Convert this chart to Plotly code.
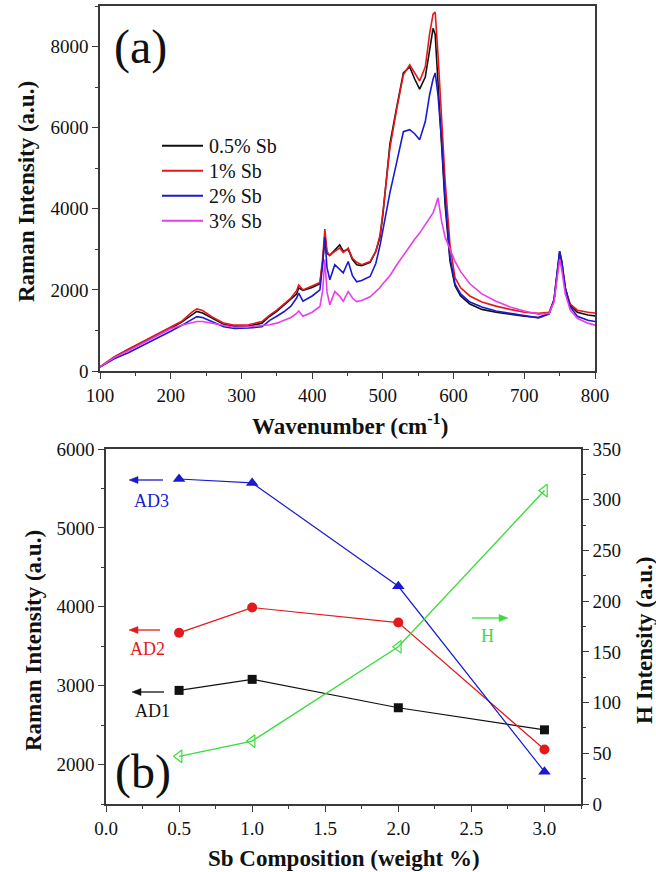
import plotly.graph_objects as go

# ---------------- (a) Raman spectra ----------------
wavenumber = [100, 110, 120, 140, 160, 180, 200, 215, 230, 237, 245, 258, 275, 290, 310, 329, 340, 350,
              360, 370, 378, 381, 387, 400, 411, 415, 418, 421, 425, 432, 439, 444, 451, 457, 463, 470,
              482, 490, 496, 500, 505, 510, 519, 529, 538, 545, 552, 560, 566, 571, 574, 578, 583, 588,
              595, 602, 610, 623, 640, 660, 680, 700, 720, 735, 742, 747, 750, 753, 758, 765, 775, 790, 800]

sb05 = [100, 220, 340, 530, 700, 880, 1060, 1200, 1400, 1470, 1430, 1300, 1150, 1100, 1110, 1180, 1350, 1470,
        1620, 1760, 1900, 2050, 1990, 2060, 2150, 2700, 3350, 2900, 2850, 2980, 3110, 2950, 3000, 2750, 2620, 2600,
        2680, 2950, 3300, 3850, 4800, 5600, 6450, 7350, 7500, 7200, 6950, 7250, 7900, 8450, 8300, 7200, 5600, 4100,
        2700, 2100, 1850, 1650, 1520, 1450, 1400, 1350, 1320, 1420, 1750, 2500, 2950, 2700, 2050, 1620, 1450, 1380, 1360]

sb1 = [100, 230, 350, 540, 720, 900, 1080, 1220, 1450, 1530, 1490, 1340, 1180, 1130, 1140, 1220, 1380, 1500,
       1650, 1800, 1980, 2120, 2000, 2100, 2180, 2800, 3500, 2950, 2850, 2950, 3030, 2920, 3030, 2780, 2680, 2620,
       2700, 2950, 3350, 3900, 4700, 5500, 6400, 7300, 7550, 7350, 7150, 7500, 8300, 8800, 8850, 7800, 6200, 4700,
       3100, 2300, 2050, 1850, 1700, 1600, 1520, 1450, 1420, 1450, 1750, 2400, 2850, 2600, 2000, 1650, 1500, 1450, 1430]

sb2 = [100, 200, 300, 450, 620, 800, 980, 1120, 1280, 1340, 1320, 1220, 1090, 1050, 1060, 1090, 1250, 1350,
       1460, 1600, 1800, 1920, 1720, 1850, 2000, 2650, 3300, 2550, 2250, 2620, 2490, 2420, 2700, 2350, 2200, 2230,
       2330, 2650, 3100, 3480, 4000, 4400, 5100, 5900, 5950, 5850, 5700, 6150, 6800, 7200, 7350, 6800, 5700, 4250,
       2800, 2150, 1900, 1700, 1580, 1480, 1420, 1360, 1310, 1400, 1750, 2500, 2950, 2700, 2050, 1580, 1350, 1250, 1220]

sb3 = [100, 220, 330, 500, 680, 880, 1040, 1130, 1200, 1220, 1220, 1180, 1120, 1080, 1090, 1120, 1140, 1180,
       1250, 1320, 1420, 1480, 1350, 1450, 1590, 2000, 2750, 1950, 1630, 1960, 1840, 1720, 1960, 1800, 1710, 1740,
       1830, 1950, 2060, 2150, 2250, 2350, 2600, 2860, 3100, 3250, 3400, 3600, 3750, 3900, 4050, 4270, 3700, 3300,
       3000, 2700, 2450, 2150, 1900, 1720, 1580, 1480, 1400, 1420, 1700, 2300, 2750, 2500, 1900, 1500, 1300, 1180, 1130]

spectra_names = ["0.5% Sb", "1% Sb", "2% Sb", "3% Sb"]
spectra_colors = ["#111111", "#e3191c", "#1a1ad0", "#e83ee8"]

# ---------------- (b) peak intensities ----------------
composition = [0.5, 1.0, 2.0, 3.0]
ad1 = [2940, 3080, 2720, 2440]
ad2 = [3670, 3990, 3800, 2190]
ad3 = [5620, 5570, 4260, 1910]
h_int = [47, 62, 155, 309]

W, H = 656, 872
def px(x):
    return x / W
def py(y):
    return 1 - y / H

SERIF = "Liberation Serif"
AX = "#3a3a3a"

fig = go.Figure()

for name, col, ys in zip(spectra_names, spectra_colors, [sb05, sb1, sb2, sb3]):
    fig.add_trace(go.Scatter(x=wavenumber, y=ys, mode="lines", name=name, showlegend=False,
                             line=dict(color=col, width=1.6), xaxis="x", yaxis="y"))

fig.add_trace(go.Scatter(x=composition, y=ad1, mode="lines+markers", name="AD1", showlegend=False,
                         line=dict(color="#111111", width=1.2),
                         marker=dict(symbol="square", size=9, color="#111111"),
                         xaxis="x2", yaxis="y2"))
fig.add_trace(go.Scatter(x=composition, y=ad2, mode="lines+markers", name="AD2", showlegend=False,
                         line=dict(color="#e3191c", width=1.2),
                         marker=dict(symbol="circle", size=10, color="#e3191c"),
                         xaxis="x2", yaxis="y2"))
fig.add_trace(go.Scatter(x=composition, y=ad3, mode="lines+markers", name="AD3", showlegend=False,
                         line=dict(color="#1a1ad0", width=1.2),
                         marker=dict(symbol="triangle-up", size=11, color="#1a1ad0"),
                         xaxis="x2", yaxis="y2"))
fig.add_trace(go.Scatter(x=composition, y=h_int, mode="lines+markers", name="H", showlegend=False,
                         line=dict(color="#3ddc3d", width=1.4),
                         marker=dict(symbol="triangle-left-open", size=11, color="#3ddc3d",
                                     line=dict(width=1.2)),
                         xaxis="x2", yaxis="y3"))

tickfont = dict(family=SERIF, size=19, color="#111111")

common = dict(showline=True, linecolor=AX, linewidth=1.5, ticks="outside", ticklen=6, automargin=False,
              tickwidth=1.3, tickcolor=AX, showgrid=False, zeroline=False, tickfont=tickfont)

top_x_dom = [px(100), px(595)]
top_y_dom = [py(371), py(6)]
bot_x_dom = [px(106), px(581)]
bot_y_dom = [py(804), py(449)]

fig.update_layout(
    template="none",
    width=W, height=H,
    margin=dict(l=0, r=0, t=0, b=0, pad=0),
    paper_bgcolor="white", plot_bgcolor="white",
    showlegend=False,
    xaxis=dict(domain=top_x_dom, anchor="y", range=[100, 800], dtick=100, tick0=0, mirror=True,
               minor=dict(dtick=50, ticklen=3, ticks="outside", tickcolor=AX), **common),
    yaxis=dict(domain=top_y_dom, anchor="x", range=[0, 9000], dtick=2000, tick0=0, mirror=True,
               minor=dict(dtick=1000, ticklen=3, ticks="outside", tickcolor=AX), **common),
    xaxis2=dict(domain=bot_x_dom, anchor="y2", range=[0, 3.25], dtick=0.5, tick0=0, tickformat=".1f",
                mirror=True, minor=dict(dtick=0.25, ticklen=3, ticks="outside", tickcolor=AX), **common),
    xaxis3=dict(overlaying="x2", side="top", anchor="y2", range=[0, 3.25], dtick=0.5, tick0=0,
                showline=False, ticks="inside", ticklen=5, tickwidth=1.3, tickcolor=AX, automargin=False,
                showticklabels=False, showgrid=False, zeroline=False,
                minor=dict(dtick=0.25, ticklen=3, ticks="inside", tickcolor=AX)),
    yaxis2=dict(domain=bot_y_dom, anchor="x2", range=[1500, 6000], dtick=1000, tick0=0,
                minor=dict(dtick=500, ticklen=3, ticks="outside", tickcolor=AX), **common),
    yaxis3=dict(overlaying="y2", side="right", anchor="x2", range=[0, 350], dtick=50, tick0=0,
                minor=dict(dtick=25, ticklen=3, ticks="outside", tickcolor=AX), **common),
)

anns = []
shapes = []

def title(text, x, y, size=23, angle=0):
    anns.append(dict(text=text, x=px(x), y=py(y), xref="paper", yref="paper", showarrow=False,
                     textangle=angle, xanchor="center", yanchor="middle",
                     font=dict(family=SERIF, size=size, color="#111111")))

title("<b>Raman Intensity (a.u.)</b>", 26, 192, angle=-90)
title("<b>Wavenumber (cm<sup>-1</sup>)</b>", 350, 424)
title("<b>Raman Intensity (a.u.)</b>", 33, 641, angle=-90)
title("<b>H Intensity (a.u.)</b>", 644, 641, angle=-90)
title("<b>Sb Composition (weight %)</b>", 344, 858)
title("(a)", 140, 47, size=48)
title("(b)", 143, 772, size=48)

# legend of panel (a)
for i, (name, col) in enumerate(zip(spectra_names, spectra_colors)):
    yy = 145.7 + 25 * i
    shapes.append(dict(type="line", xref="paper", yref="paper", x0=px(162), x1=px(203),
                       y0=py(yy), y1=py(yy), line=dict(color=col, width=2)))
    anns.append(dict(text=name, x=px(207), y=py(yy), xref="paper", yref="paper", showarrow=False,
                     xanchor="left", yanchor="middle",
                     font=dict(family=SERIF, size=20, color="#111111")))

def arrow(x_head, y, x_tail, color):
    d = 1 if x_tail > x_head else -1
    hl, hw = 9, 3.5
    shapes.append(dict(type="line", xref="paper", yref="paper",
                       x0=px(x_tail), x1=px(x_head + d * hl * 0.6), y0=py(y), y1=py(y),
                       line=dict(color=color, width=1.3)))
    path = "M {} {} L {} {} L {} {} Z".format(
        px(x_head), py(y), px(x_head + d * hl), py(y - hw), px(x_head + d * hl), py(y + hw))
    shapes.append(dict(type="path", xref="paper", yref="paper", path=path,
                       fillcolor=color, line=dict(color=color, width=0.5)))

def label(text, x, y, color):
    anns.append(dict(text=text, x=px(x), y=py(y), xref="paper", yref="paper", showarrow=False,
                     xanchor="center", yanchor="middle", font=dict(family=SERIF, size=18, color=color)))

arrow(129, 480, 163, "#1a1ad0"); label("AD3", 151, 501, "#1a1ad0")
arrow(129, 630, 160, "#e3191c"); label("AD2", 147, 649, "#e3191c")
arrow(132, 692, 164, "#111111"); label("AD1", 152, 711, "#111111")
arrow(508, 618, 472, "#3ddc3d"); label("H", 487, 636, "#3ddc3d")

fig.update_layout(annotations=anns, shapes=shapes)

fig.write_html("out.html", config={"displayModeBar": False},
               post_script="document.body.style.margin='0';document.body.style.overflow='hidden';")
